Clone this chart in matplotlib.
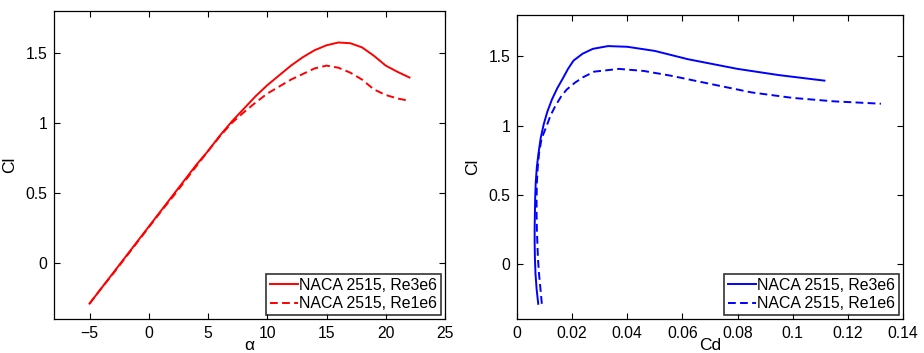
import numpy as np
import matplotlib
matplotlib.use("Agg")
import matplotlib.pyplot as plt

plt.rcParams['font.family'] = ['Liberation Sans', 'DejaVu Sans']

alpha = [-5, -4, -3, -2, -1, 0, 1, 2, 3, 4, 5, 6, 7, 8, 9, 10, 11, 12, 13,
         14, 15, 16, 17, 18, 19, 20, 21, 22]

cl_re3e6 = [-0.29, -0.18, -0.07, 0.04, 0.15, 0.26, 0.37, 0.48, 0.59, 0.70,
            0.80, 0.91, 1.01, 1.10, 1.19, 1.27, 1.34, 1.41, 1.47, 1.52,
            1.555, 1.575, 1.57, 1.54, 1.48, 1.41, 1.365, 1.325]
cd_re3e6 = [0.0077, 0.0071, 0.0067, 0.0065, 0.0064, 0.0064, 0.0065, 0.0066,
            0.0068, 0.0072, 0.0078, 0.0086, 0.0097, 0.0110, 0.0127, 0.0146,
            0.0166, 0.0185, 0.0205, 0.0238, 0.0275, 0.0330, 0.0400, 0.0500,
            0.0620, 0.0800, 0.0950, 0.1115]

cl_re1e6 = [-0.29, -0.18, -0.075, 0.035, 0.145, 0.255, 0.365, 0.47, 0.58,
            0.69, 0.80, 0.905, 1.0, 1.075, 1.145, 1.21, 1.26, 1.31, 1.35,
            1.39, 1.41, 1.395, 1.36, 1.31, 1.24, 1.20, 1.175, 1.158]
cd_re1e6 = [0.0090, 0.0085, 0.0080, 0.0076, 0.0074, 0.0072, 0.0071, 0.0071,
            0.0072, 0.0075, 0.0080, 0.0089, 0.0108, 0.0122, 0.0140, 0.0160,
            0.0180, 0.0210, 0.0240, 0.0280, 0.0370, 0.0460, 0.0560, 0.0680,
            0.0850, 0.1000, 0.1150, 0.1320]

labels = ["NACA 2515, Re3e6", "NACA 2515, Re1e6"]

W, H = 924, 353
fig = plt.figure(figsize=(W / 100, H / 100), dpi=100)
ax1 = fig.add_axes([54 / W, (H - 319) / H, (445 - 54) / W, (319 - 11) / H])
ax2 = fig.add_axes([517 / W, (H - 319) / H, (903 - 517) / W, (319 - 15) / H])

dash = (0, (4, 2.2))


def style(ax):
    ax.tick_params(direction="in", top=True, right=True, length=4,
                   width=0.8, labelsize=11.3, pad=5)
    for s in ax.spines.values():
        s.set_linewidth(0.9)
    ax.set_ylim(-0.4, 1.8)
    ax.set_yticks([0, 0.5, 1, 1.5])
    ax.set_yticklabels(["0", "0.5", "1", "1.5"])
    ax.set_ylabel("Cl", fontsize=12.5, labelpad=6)


ax1.plot(alpha, cl_re3e6, color="red", lw=1.4, label=labels[0])
ax1.plot(alpha, cl_re1e6, color="red", lw=1.4, ls=dash, label=labels[1])
ax1.set_xlim(-8, 25)
ax1.set_xticks([-5, 0, 5, 10, 15, 20, 25])
ax1.set_xticklabels(["\u22125", "0", "5", "10", "15", "20", "25"])
ax1.set_xlabel("\u03b1", fontsize=12.5, labelpad=-2)
style(ax1)

ax2.plot(cd_re3e6, cl_re3e6, color="blue", lw=1.4, label=labels[0])
ax2.plot(cd_re1e6, cl_re1e6, color="blue", lw=1.4, ls=dash, label=labels[1])
ax2.set_xlim(0, 0.14)
ax2.set_xticks([0, 0.02, 0.04, 0.06, 0.08, 0.1, 0.12, 0.14])
ax2.set_xticklabels(["0", "0.02", "0.04", "0.06", "0.08", "0.1", "0.12", "0.14"])
ax2.set_xlabel("Cd", fontsize=12.5, labelpad=-2)
style(ax2)

for ax in (ax1, ax2):
    leg = ax.legend(loc="lower right", fontsize=11.4, frameon=True, fancybox=False,
                    edgecolor="black", borderpad=0.25, labelspacing=0.2,
                    handlelength=1.75, handletextpad=0.1, borderaxespad=0.25)
    leg.get_frame().set_linewidth(1.2)

fig.savefig("out.png", dpi=100)
